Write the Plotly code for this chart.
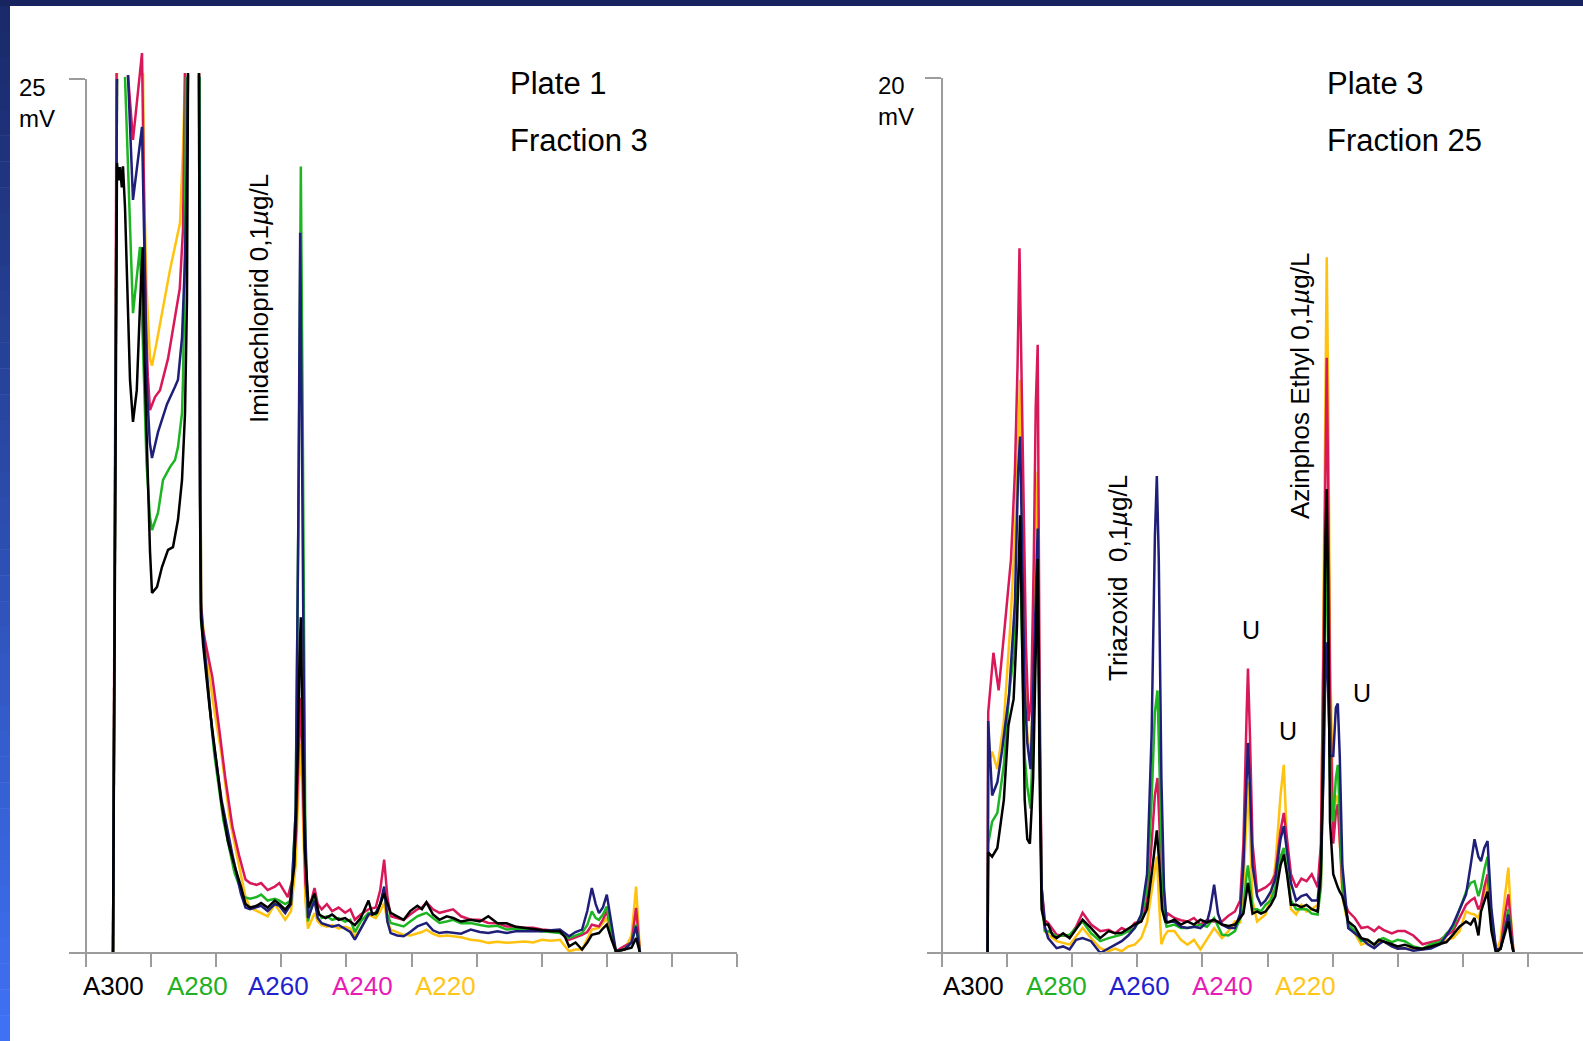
import plotly.graph_objects as go

W, H = 1583, 1041

# ---------------- data (time units = one axis tick, signal in mV) ----------------
WAVES = ["A300", "A280", "A260", "A240", "A220"]
LINE_COLORS = {"A300": "#000000", "A280": "#1db522", "A260": "#1f1f7a", "A240": "#d9185a", "A220": "#ffc20e"}
LABEL_COLORS = {"A300": "#000000", "A280": "#22b022", "A260": "#2222cc", "A240": "#e81cb4", "A220": "#ffc61a"}

# Plate 1 / Fraction 3  (None = signal off scale)
L_A300 = [(0.415,0),(0.476,22.6),(0.50,22.1),(0.522,22.48),(0.55,21.9),(0.568,22.5),(0.599,21.34),(0.63,19.5),(0.676,16.39),(0.722,15.19),(0.78,16.1),(0.829,18.5),(0.87,20.19),(0.89,17.5),(0.906,16.39),(0.95,13.0),(0.983,11.5),(1.014,10.3),(1.091,10.47),(1.167,11.04),(1.26,11.53),(1.336,11.61),(1.413,12.39),(1.475,13.53),(1.521,15.45),(1.551,18.68),(1.567,25.17),(None,None),(1.736,25.17),(1.75,13.0),(1.767,9.6),(1.80,8.8),(1.90,7.0),(2.01,5.3),(2.08,4.3),(2.18,3.2),(2.28,2.5),(2.38,1.9),(2.45,1.4),(2.52,1.3),(2.62,1.35),(2.69,1.43),(2.79,1.3),(2.90,1.5),(2.97,1.4),(3.06,1.24),(3.13,1.4),(3.20,2.5),(3.25,5.5),(3.28,8.5),(3.30,9.6),(3.32,7.0),(3.36,3.0),(3.42,1.3),(3.51,1.7),(3.58,1.1),(3.68,1.0),(3.78,1.1),(3.88,0.95),(3.98,1.0),(4.06,0.9),(4.13,0.8),(4.22,1.0),(4.34,1.5),(4.40,1.1),(4.47,1.15),(4.58,1.7),(4.68,1.15),(4.78,1.05),(4.88,0.95),(4.98,1.2),(5.09,1.35),(5.16,1.25),(5.23,1.45),(5.33,1.1),(5.43,0.95),(5.54,1.05),(5.64,1.0),(5.76,0.9),(5.91,0.95),(6.05,0.9),(6.18,1.05),(6.32,0.85),(6.46,0.85),(6.60,0.75),(6.73,0.72),(6.87,0.7),(7.0,0.67),(7.14,0.62),(7.28,0.62),(7.36,0.45),(7.42,0.19),(7.52,0.3),(7.62,0.1),(7.70,0.3),(7.77,0.52),(7.88,0.57),(7.94,0.7),(8.0,0.81),(8.07,0.4),(8.14,0.05),(8.27,0.1),(8.38,0.15),(8.45,0.43),(8.51,0.0)]
L_A280 = [(0.415,0),(0.476,25.0),(None,None),(0.599,25.06),(0.722,18.3),(0.829,20.2),(0.876,17.0),(0.93,14.0),(0.98,12.5),(1.014,12.1),(1.106,12.59),(1.183,13.53),(1.29,13.9),(1.367,14.1),(1.413,14.47),(1.475,15.45),(1.49,16.39),(1.52,20.0),(1.536,25.06),(None,None),(1.745,25.06),(1.755,15.0),(1.767,9.5),(1.80,9.0),(1.97,5.7),(2.11,3.8),(2.28,2.3),(2.42,1.6),(2.52,1.55),(2.62,1.6),(2.69,1.67),(2.79,1.5),(2.90,1.55),(2.97,1.5),(3.06,1.4),(3.15,1.5),(3.22,4.0),(3.27,14.0),(3.30,22.5),(3.33,15.0),(3.37,3.0),(3.41,0.9),(3.47,1.4),(3.51,1.7),(3.56,1.2),(3.62,1.0),(3.70,1.05),(3.78,0.95),(3.88,1.0),(3.98,0.9),(4.06,0.95),(4.13,0.6),(4.22,0.9),(4.34,1.15),(4.45,1.1),(4.52,1.4),(4.58,1.8),(4.63,1.1),(4.68,0.86),(4.78,0.8),(4.88,0.76),(4.98,0.9),(5.09,1.05),(5.16,1.1),(5.23,1.15),(5.33,1.0),(5.43,0.86),(5.54,0.9),(5.64,0.95),(5.76,0.85),(5.91,0.86),(6.05,0.8),(6.18,0.76),(6.32,0.78),(6.46,0.67),(6.60,0.7),(6.73,0.67),(6.87,0.66),(7.0,0.62),(7.14,0.6),(7.28,0.57),(7.42,0.43),(7.52,0.5),(7.62,0.57),(7.70,0.8),(7.77,1.19),(7.83,1.0),(7.88,0.95),(7.94,1.1),(8.0,1.33),(8.07,0.6),(8.14,0.05),(8.27,0.1),(8.38,0.3),(8.45,0.81),(8.51,0.0)]
L_A260 = [(0.415,0),(0.476,25.0),(None,None),(0.645,25.11),(0.722,21.54),(0.86,23.63),(0.90,19.5),(0.94,16.0),(0.98,14.6),(1.014,14.16),(1.106,14.9),(1.244,15.7),(1.367,16.2),(1.413,16.4),(1.475,17.6),(1.52,19.8),(1.55,22.5),(1.567,25.11),(None,None),(1.736,25.11),(1.75,14.0),(1.767,9.8),(1.80,9.1),(1.94,6.3),(2.08,4.4),(2.25,2.8),(2.38,1.7),(2.45,1.3),(2.52,1.25),(2.62,1.3),(2.69,1.35),(2.79,1.2),(2.90,1.4),(2.97,1.35),(3.06,1.14),(3.15,1.4),(3.22,4.0),(3.26,12.0),(3.29,20.6),(3.32,14.0),(3.36,4.0),(3.41,1.0),(3.47,1.3),(3.51,1.5),(3.56,1.0),(3.62,0.85),(3.70,0.8),(3.78,0.75),(3.88,0.8),(3.98,0.7),(4.06,0.6),(4.13,0.38),(4.22,0.7),(4.34,1.1),(4.45,1.15),(4.52,1.4),(4.58,1.9),(4.63,0.9),(4.68,0.57),(4.78,0.5),(4.88,0.48),(4.98,0.6),(5.09,0.76),(5.16,0.8),(5.23,0.86),(5.33,0.65),(5.43,0.57),(5.54,0.6),(5.64,0.57),(5.76,0.55),(5.91,0.67),(6.05,0.6),(6.18,0.57),(6.32,0.62),(6.46,0.57),(6.60,0.62),(6.73,0.62),(6.87,0.62),(7.0,0.62),(7.14,0.65),(7.28,0.67),(7.42,0.48),(7.52,0.6),(7.62,0.67),(7.70,1.2),(7.77,1.86),(7.83,1.4),(7.88,1.14),(7.94,1.3),(8.0,1.67),(8.07,0.8),(8.14,0.05),(8.27,0.1),(8.38,0.3),(8.45,0.76),(8.51,0.0)]
L_A240 = [(0.415,0),(0.47,25.17),(None,None),(0.645,25.11),(0.722,23.26),(0.86,25.74),(0.89,21.5),(0.92,18.0),(0.95,16.5),(0.983,15.53),(1.06,15.9),(1.137,16.1),(1.26,17.0),(1.37,18.2),(1.44,19.0),(1.49,20.7),(1.52,25.17),(None,None),(1.736,25.17),(1.75,15.0),(1.767,10.0),(1.80,9.2),(1.94,7.9),(2.04,6.5),(2.14,5.0),(2.25,3.6),(2.35,2.8),(2.45,2.1),(2.52,2.0),(2.62,1.95),(2.69,2.0),(2.79,1.8),(2.90,1.9),(2.97,2.0),(3.03,1.8),(3.10,1.6),(3.17,2.1),(3.23,3.5),(3.27,6.0),(3.30,7.3),(3.33,5.0),(3.37,2.0),(3.42,1.2),(3.47,1.6),(3.51,1.86),(3.56,1.4),(3.62,1.25),(3.70,1.4),(3.78,1.2),(3.88,1.3),(3.98,1.15),(4.06,1.25),(4.13,0.95),(4.22,1.1),(4.34,1.25),(4.45,1.3),(4.52,1.8),(4.58,2.67),(4.63,1.6),(4.68,1.05),(4.78,1.0),(4.88,0.95),(4.98,1.1),(5.09,1.25),(5.16,1.3),(5.23,1.45),(5.33,1.25),(5.43,1.15),(5.54,1.2),(5.64,1.25),(5.76,1.05),(5.91,0.95),(6.05,0.95),(6.18,0.86),(6.32,0.85),(6.46,0.76),(6.60,0.75),(6.73,0.72),(6.87,0.72),(7.0,0.67),(7.14,0.65),(7.28,0.64),(7.42,0.38),(7.52,0.45),(7.62,0.52),(7.70,0.6),(7.77,0.81),(7.88,0.76),(7.94,0.95),(8.0,1.19),(8.07,0.6),(8.14,0.05),(8.27,0.2),(8.38,0.3),(8.45,1.29),(8.51,0.0)]
L_A220 = [(0.415,0),(0.476,25.17),(None,None),(0.876,25.17),(0.891,22.0),(0.93,19.0),(0.983,17.0),(1.014,16.8),(1.091,17.53),(1.29,19.54),(1.367,20.19),(1.444,20.88),(1.49,23.0),(1.521,25.17),(None,None),(1.736,25.17),(1.755,13.0),(1.767,10.0),(1.80,9.3),(1.95,7.2),(2.08,5.7),(2.21,3.8),(2.35,2.5),(2.45,1.6),(2.52,1.3),(2.62,1.2),(2.69,1.15),(2.79,1.05),(2.90,1.4),(2.97,1.2),(3.06,0.95),(3.15,1.2),(3.22,2.5),(3.27,5.0),(3.30,6.0),(3.33,4.0),(3.37,1.5),(3.41,0.7),(3.47,1.0),(3.51,1.14),(3.56,0.9),(3.62,0.8),(3.70,0.75),(3.78,0.8),(3.88,0.7),(3.98,0.75),(4.06,0.7),(4.13,0.48),(4.22,0.7),(4.34,1.1),(4.45,1.0),(4.52,1.2),(4.58,1.43),(4.63,0.9),(4.68,0.67),(4.78,0.6),(4.88,0.52),(4.98,0.5),(5.09,0.57),(5.16,0.6),(5.23,0.67),(5.33,0.55),(5.43,0.48),(5.54,0.5),(5.64,0.48),(5.76,0.45),(5.91,0.38),(6.05,0.35),(6.18,0.29),(6.32,0.32),(6.46,0.29),(6.60,0.3),(6.73,0.33),(6.87,0.3),(7.0,0.38),(7.14,0.35),(7.28,0.38),(7.42,0.05),(7.52,0.1),(7.62,0.1),(7.70,0.4),(7.77,0.67),(7.88,0.72),(7.94,0.85),(8.0,1.0),(8.07,0.4),(8.14,0.05),(8.27,0.1),(8.38,0.5),(8.45,1.9),(8.51,0.0)]

# Plate 3 / Fraction 25
R_A300 = [(0.70,0),(0.71,2.3),(0.77,2.2),(0.85,2.4),(0.95,3.5),(1.02,5.2),(1.10,5.8),(1.15,7.4),(1.20,10.0),(1.23,7.0),(1.27,3.5),(1.31,2.6),(1.35,2.5),(1.40,4.0),(1.44,7.0),(1.47,9.0),(1.50,4.0),(1.53,1.0),(1.58,0.65),(1.63,0.65),(1.70,0.4),(1.76,0.34),(1.86,0.45),(1.96,0.34),(2.06,0.55),(2.16,0.76),(2.29,0.57),(2.43,0.34),(2.56,0.5),(2.66,0.45),(2.76,0.46),(2.86,0.55),(2.96,0.65),(3.06,0.72),(3.15,1.0),(3.22,1.8),(3.27,2.5),(3.30,2.8),(3.34,2.0),(3.38,1.0),(3.43,0.72),(3.47,0.7),(3.57,0.76),(3.67,0.65),(3.77,0.72),(3.87,0.65),(3.97,0.76),(4.07,0.7),(4.18,0.76),(4.30,0.65),(4.40,0.62),(4.50,0.65),(4.58,0.8),(4.63,0.9),(4.68,1.4),(4.70,1.6),(4.73,1.3),(4.77,0.9),(4.84,0.95),(4.90,0.9),(4.97,0.95),(5.05,1.1),(5.12,1.3),(5.20,2.0),(5.25,2.25),(5.30,1.8),(5.36,1.1),(5.44,1.1),(5.52,1.05),(5.60,1.1),(5.68,1.0),(5.77,0.95),(5.82,1.8),(5.86,5.0),(5.89,9.5),(5.91,10.6),(5.93,8.5),(5.96,3.0),(6.01,1.8),(6.05,1.6),(6.08,1.5),(6.11,1.4),(6.15,1.3),(6.20,1.0),(6.24,0.72),(6.34,0.6),(6.44,0.34),(6.54,0.3),(6.64,0.19),(6.71,0.3),(6.78,0.27),(6.91,0.2),(7.0,0.15),(7.11,0.19),(7.24,0.12),(7.38,0.1),(7.51,0.15),(7.65,0.2),(7.75,0.25),(7.85,0.42),(7.95,0.6),(8.05,0.72),(8.12,0.65),(8.18,0.8),(8.24,0.4),(8.28,0.95),(8.33,1.2),(8.38,1.4),(8.44,0.5),(8.51,0.0),(8.58,0.1),(8.64,0.4),(8.70,0.72),(8.74,0.3),(8.78,0.0)]
R_A280 = [(0.70,0),(0.71,2.5),(0.77,3.0),(0.85,3.2),(0.95,4.3),(1.03,5.9),(1.10,6.8),(1.15,8.4),(1.20,9.0),(1.23,7.0),(1.27,4.5),(1.31,3.8),(1.36,3.3),(1.40,5.0),(1.44,7.5),(1.47,8.5),(1.50,4.0),(1.53,1.2),(1.58,0.5),(1.63,0.5),(1.76,0.38),(1.96,0.42),(2.16,0.72),(2.29,0.45),(2.43,0.27),(2.56,0.34),(2.76,0.42),(2.96,0.57),(3.06,0.8),(3.15,1.5),(3.22,3.5),(3.27,5.5),(3.31,6.0),(3.34,4.5),(3.38,2.0),(3.42,0.8),(3.45,0.6),(3.57,0.65),(3.67,0.57),(3.77,0.57),(3.87,0.6),(3.97,0.65),(4.07,0.6),(4.18,0.8),(4.30,0.42),(4.40,0.4),(4.50,0.5),(4.58,0.8),(4.63,1.0),(4.68,1.8),(4.70,2.0),(4.73,1.6),(4.77,1.0),(4.84,1.0),(4.90,0.95),(4.97,1.1),(5.05,1.2),(5.12,1.5),(5.20,2.2),(5.25,2.4),(5.30,1.9),(5.36,1.2),(5.44,1.0),(5.52,1.0),(5.60,1.0),(5.68,0.9),(5.77,0.88),(5.82,1.5),(5.86,4.5),(5.89,8.5),(5.91,9.3),(5.93,7.0),(5.96,4.0),(6.01,3.0),(6.05,4.0),(6.08,4.3),(6.11,3.2),(6.15,1.6),(6.20,1.0),(6.24,0.65),(6.34,0.5),(6.44,0.27),(6.54,0.3),(6.64,0.19),(6.71,0.3),(6.78,0.34),(6.91,0.25),(7.0,0.3),(7.11,0.27),(7.24,0.15),(7.38,0.1),(7.51,0.2),(7.65,0.25),(7.75,0.45),(7.85,0.57),(7.95,1.0),(8.05,1.4),(8.12,1.6),(8.18,1.64),(8.24,1.3),(8.28,1.5),(8.33,1.9),(8.38,2.2),(8.44,0.8),(8.51,0.05),(8.58,0.1),(8.64,0.5),(8.70,1.0),(8.74,0.4),(8.78,0.0)]
R_A260 = [(0.70,0),(0.71,5.3),(0.77,3.6),(0.85,3.9),(0.92,4.6),(1.03,5.9),(1.12,8.0),(1.17,11.0),(1.20,11.8),(1.23,9.0),(1.27,6.0),(1.31,4.8),(1.36,4.2),(1.40,6.0),(1.44,8.5),(1.47,9.7),(1.50,5.0),(1.53,1.5),(1.58,0.6),(1.63,0.34),(1.76,0.11),(1.86,0.15),(1.96,0.08),(2.06,0.3),(2.16,0.34),(2.29,0.27),(2.43,0.0),(2.56,0.11),(2.66,0.2),(2.76,0.27),(2.86,0.4),(2.96,0.57),(3.06,0.88),(3.15,1.8),(3.22,5.0),(3.27,9.5),(3.30,10.9),(3.33,9.0),(3.37,4.0),(3.41,1.5),(3.45,0.7),(3.57,0.72),(3.67,0.6),(3.77,0.57),(3.87,0.6),(3.97,0.57),(4.07,0.7),(4.12,1.0),(4.18,1.56),(4.24,0.9),(4.30,0.65),(4.40,0.57),(4.50,0.57),(4.58,0.9),(4.63,2.0),(4.68,4.2),(4.70,4.8),(4.73,3.8),(4.77,2.0),(4.84,1.3),(4.90,1.1),(4.97,1.2),(5.05,1.4),(5.12,1.7),(5.20,2.6),(5.25,2.9),(5.30,2.3),(5.36,1.6),(5.44,1.2),(5.52,1.3),(5.60,1.34),(5.68,1.2),(5.77,1.2),(5.82,2.0),(5.86,4.0),(5.89,6.5),(5.91,7.1),(5.93,6.0),(5.96,4.5),(6.01,4.5),(6.05,5.6),(6.08,5.7),(6.11,4.5),(6.15,2.0),(6.20,1.2),(6.24,0.57),(6.34,0.45),(6.44,0.34),(6.54,0.2),(6.64,0.11),(6.71,0.2),(6.78,0.27),(6.91,0.15),(7.0,0.1),(7.11,0.11),(7.24,0.05),(7.38,0.08),(7.51,0.1),(7.65,0.2),(7.75,0.4),(7.85,0.65),(7.95,1.0),(8.05,1.34),(8.12,2.0),(8.18,2.6),(8.24,2.2),(8.28,2.1),(8.33,2.4),(8.38,2.56),(8.44,1.0),(8.51,0.08),(8.58,0.1),(8.64,0.5),(8.70,0.88),(8.74,0.4),(8.78,0.0)]
R_A240 = [(0.70,0),(0.71,5.5),(0.79,6.86),(0.87,6.0),(0.96,7.4),(1.06,9.0),(1.12,11.0),(1.16,13.4),(1.19,16.1),(1.22,13.4),(1.25,10.4),(1.29,7.0),(1.33,5.3),(1.37,5.8),(1.41,9.0),(1.44,12.5),(1.47,13.9),(1.50,6.0),(1.53,1.5),(1.58,0.75),(1.63,0.69),(1.76,0.42),(1.96,0.38),(2.06,0.6),(2.16,0.92),(2.29,0.65),(2.43,0.5),(2.56,0.53),(2.66,0.45),(2.76,0.57),(2.86,0.5),(2.96,0.69),(3.06,0.72),(3.15,1.2),(3.22,2.5),(3.27,3.6),(3.31,4.0),(3.34,3.0),(3.38,1.5),(3.43,0.8),(3.47,0.9),(3.57,0.8),(3.67,0.75),(3.77,0.72),(3.87,0.8),(3.97,0.65),(4.07,0.75),(4.18,0.72),(4.30,0.72),(4.40,0.85),(4.50,0.95),(4.58,1.2),(4.63,2.5),(4.68,5.5),(4.70,6.5),(4.73,5.0),(4.77,2.5),(4.84,1.4),(4.90,1.45),(4.97,1.5),(5.05,1.6),(5.12,1.8),(5.20,2.8),(5.25,3.2),(5.30,2.6),(5.36,1.8),(5.44,1.5),(5.52,1.7),(5.60,1.64),(5.68,1.8),(5.77,1.5),(5.82,2.5),(5.86,7.0),(5.89,12.0),(5.91,13.6),(5.93,11.0),(5.96,6.0),(6.01,2.5),(6.05,3.2),(6.08,3.4),(6.11,2.6),(6.15,1.5),(6.20,1.1),(6.24,0.95),(6.34,0.8),(6.44,0.57),(6.54,0.6),(6.64,0.5),(6.71,0.6),(6.78,0.53),(6.91,0.45),(7.0,0.5),(7.11,0.5),(7.24,0.4),(7.38,0.2),(7.51,0.25),(7.65,0.3),(7.75,0.4),(7.85,0.5),(7.95,0.8),(8.05,1.1),(8.12,1.2),(8.18,1.26),(8.24,1.0),(8.28,1.1),(8.33,1.5),(8.38,1.8),(8.44,0.8),(8.51,0.08),(8.58,0.1),(8.64,0.8),(8.70,1.34),(8.74,0.6),(8.78,0.0)]
R_A220 = [(0.70,0),(0.71,4.3),(0.77,4.6),(0.85,4.2),(0.95,5.3),(1.05,7.5),(1.12,9.5),(1.17,12.0),(1.20,13.1),(1.23,10.0),(1.27,6.5),(1.31,5.0),(1.36,4.4),(1.40,6.0),(1.44,9.5),(1.47,11.0),(1.50,5.0),(1.53,1.5),(1.58,0.5),(1.63,0.42),(1.76,0.27),(1.96,0.19),(2.16,0.57),(2.29,0.34),(2.43,0.11),(2.56,0.04),(2.66,0.1),(2.76,0.04),(2.86,0.15),(2.96,0.19),(3.06,0.34),(3.15,0.7),(3.22,1.4),(3.27,2.0),(3.30,2.2),(3.34,1.0),(3.37,0.2),(3.42,0.4),(3.47,0.5),(3.57,0.5),(3.67,0.3),(3.77,0.19),(3.87,0.3),(3.97,0.08),(4.07,0.3),(4.18,0.57),(4.30,0.34),(4.40,0.5),(4.50,0.72),(4.58,0.7),(4.63,1.5),(4.68,3.2),(4.70,3.9),(4.73,2.8),(4.77,1.2),(4.84,0.72),(4.90,0.8),(4.97,0.88),(5.05,1.3),(5.12,2.0),(5.20,3.6),(5.25,4.3),(5.30,2.5),(5.36,1.0),(5.44,0.88),(5.52,1.1),(5.60,0.95),(5.68,1.0),(5.77,1.1),(5.82,1.5),(5.86,8.0),(5.89,14.0),(5.91,15.9),(5.93,13.0),(5.96,7.0),(6.01,3.0),(6.05,3.6),(6.08,3.5),(6.11,2.6),(6.15,1.3),(6.20,0.9),(6.24,0.65),(6.34,0.45),(6.44,0.19),(6.54,0.25),(6.64,0.19),(6.71,0.25),(6.78,0.27),(6.91,0.15),(7.0,0.1),(7.11,0.11),(7.24,0.1),(7.38,0.08),(7.51,0.15),(7.65,0.2),(7.75,0.3),(7.85,0.34),(7.95,0.5),(8.05,0.95),(8.12,0.9),(8.18,0.88),(8.24,0.8),(8.28,1.0),(8.33,1.3),(8.38,1.6),(8.44,0.6),(8.51,0.05),(8.58,0.3),(8.64,1.2),(8.70,1.95),(8.74,0.8),(8.78,0.0)]

LEFT = {"A300": L_A300, "A280": L_A280, "A260": L_A260, "A240": L_A240, "A220": L_A220}
RIGHT = {"A300": R_A300, "A280": R_A280, "A260": R_A260, "A240": R_A240, "A220": R_A220}

LEFT_SCALE_MV = 25
RIGHT_SCALE_MV = 20
LEFT_TITLE = ["Plate 1", "Fraction 3"]
RIGHT_TITLE = ["Plate 3", "Fraction 25"]
PEAK_LABELS = ["Imidachloprid 0,1<i>µ</i>g/L", "Triazoxid  0,1<i>µ</i>g/L", "Azinphos Ethyl 0,1<i>µ</i>g/L"]
UNKNOWN_LABEL = "U"

# ---------------- figure ----------------
FONT = "Liberation Sans, Arial, Helvetica, sans-serif"
AX = "#9c9c9c"


def px(x):
    return x / W


def py(y):
    return 1 - y / H


fig = go.Figure()
draw_order = ["A220", "A240", "A280", "A260", "A300"]
for data, xa, ya in [(LEFT, "x", "y"), (RIGHT, "x2", "y2")]:
    for w in draw_order:
        pts = data[w]
        fig.add_trace(go.Scatter(
            x=[p[0] for p in pts], y=[p[1] for p in pts], xaxis=xa, yaxis=ya,
            mode="lines", line=dict(color=LINE_COLORS[w], width=2.5),
            connectgaps=False, showlegend=False, hoverinfo="skip", name=w))

# carrier traces for the scale-bar axes
fig.add_trace(go.Scatter(x=[None], y=[None], xaxis="x", yaxis="y3", showlegend=False, hoverinfo="skip"))
fig.add_trace(go.Scatter(x=[None], y=[None], xaxis="x2", yaxis="y4", showlegend=False, hoverinfo="skip"))

base_x = dict(showline=True, linecolor=AX, linewidth=1.6, ticks="outside", ticklen=13,
              tickwidth=1.6, tickcolor=AX, showticklabels=False, showgrid=False,
              zeroline=False, anchor="free", position=py(953))
scale_y = dict(showline=True, linecolor=AX, linewidth=1.6, ticks="outside", ticklen=16,
               tickwidth=1.6, tickcolor=AX, showticklabels=False, showgrid=False,
               zeroline=False, anchor="free")

lpx = 65.1          # pixels per time unit
l_mv = (953 - 79) / LEFT_SCALE_MV
r_mv = (953 - 77.7) / RIGHT_SCALE_MV

fig.update_layout(
    width=W, height=H, autosize=False,
    margin=dict(l=0, r=0, t=0, b=0),
    paper_bgcolor="white", plot_bgcolor="rgba(0,0,0,0)",
    xaxis=dict(base_x, domain=[px(69), px(737)], range=[-(86 - 69) / lpx, (737 - 86) / lpx],
               tickvals=list(range(0, 11))),
    yaxis=dict(domain=[py(953 + 0.15 * l_mv), py(51)], range=[-0.15, (953 - 51) / l_mv],
               visible=False, anchor="x"),
    yaxis3=dict(scale_y, domain=[py(953), py(79)], range=[0, LEFT_SCALE_MV],
                position=px(86), tickvals=[LEFT_SCALE_MV]),
    xaxis2=dict(base_x, domain=[px(927), 1.0], range=[-(942 - 927) / lpx, (W - 942) / lpx],
                tickvals=list(range(0, 10))),
    yaxis2=dict(domain=[py(953 + 0.15 * r_mv), py(51)], range=[-0.15, (953 - 51) / r_mv],
                visible=False, anchor="x2"),
    yaxis4=dict(scale_y, domain=[py(953), py(77.7)], range=[0, RIGHT_SCALE_MV],
                position=px(942), tickvals=[RIGHT_SCALE_MV]),
)

ann = []


def text(x, y, s, size=26, color="black", xanchor="left", angle=0):
    ann.append(dict(x=px(x), y=py(y), xref="paper", yref="paper", text=s, showarrow=False,
                    xanchor=xanchor, yanchor="middle", textangle=angle, align="left",
                    font=dict(family=FONT, size=size, color=color)))


# scale labels
text(17, 103, "%d<br>mV" % LEFT_SCALE_MV, 24)
text(876, 101, "%d<br>mV" % RIGHT_SCALE_MV, 24)
# titles
text(508, 84, LEFT_TITLE[0], 31)
text(508, 141, LEFT_TITLE[1], 31)
text(1325, 84, RIGHT_TITLE[0], 31)
text(1325, 141, RIGHT_TITLE[1], 31)
# peak labels
text(259, 299, PEAK_LABELS[0], 26, xanchor="center", angle=-90)
text(1118, 578, PEAK_LABELS[1], 26, xanchor="center", angle=-90)
text(1300, 386, PEAK_LABELS[2], 26, xanchor="center", angle=-90)
for ux, uy in [(1251, 630), (1288, 731), (1362, 693)]:
    text(ux, uy, UNKNOWN_LABEL, 25, xanchor="center")
# wavelength legends
for xs in ([81, 165, 246, 330, 413], [941, 1024, 1107, 1190, 1273]):
    for w, x0 in zip(WAVES, xs):
        text(x0, 986, w, 26, LABEL_COLORS[w])

# frame: dark top band and gradient left band
shapes = [dict(type="rect", xref="paper", yref="paper", x0=0, x1=1, y0=py(6), y1=1,
               fillcolor="#17245f", line=dict(width=0), layer="above")]
top_c = (0x1a, 0x29, 0x68)
bot_c = (0x3f, 0x72, 0xf6)
N = 40
for i in range(N):
    f = (i + 0.5) / N
    c = tuple(int(round(top_c[k] + (bot_c[k] - top_c[k]) * f)) for k in range(3))
    y0 = 6 + (H - 6) * i / N
    y1 = 6 + (H - 6) * (i + 1) / N
    shapes.append(dict(type="rect", xref="paper", yref="paper", x0=0, x1=px(10),
                       y0=py(y1 + 0.5), y1=py(y0), fillcolor="rgb(%d,%d,%d)" % c,
                       line=dict(width=0), layer="above"))

fig.update_layout(annotations=ann, shapes=shapes)
fig.write_html("out.html",
               config={"displayModeBar": False},
               post_script="document.body.style.margin='0';document.body.style.padding='0';"
                           "document.body.style.overflow='hidden';")
